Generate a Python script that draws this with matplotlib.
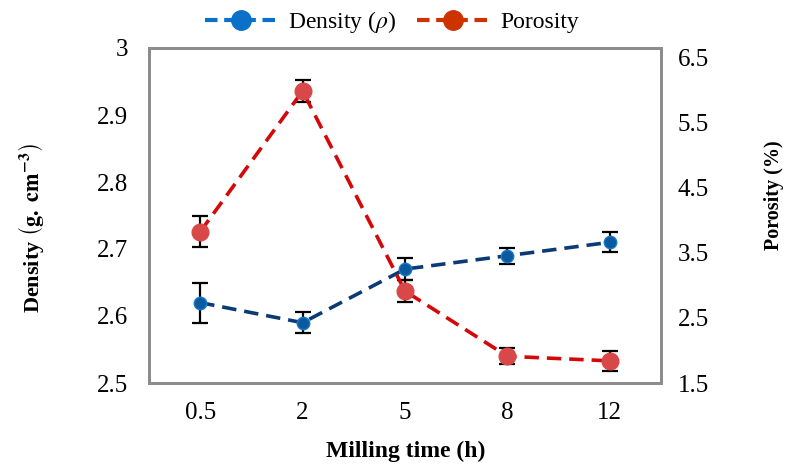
import matplotlib
matplotlib.use('Agg')
import matplotlib.pyplot as plt
from matplotlib.lines import Line2D

plt.rcParams['font.family'] = ['Liberation Serif', 'DejaVu Serif']
plt.rcParams['mathtext.fontset'] = 'stix'

# data
times = ['0.5', '2', '5', '8', '12']
density = [2.62, 2.59, 2.67, 2.69, 2.71]
density_err = [0.030, 0.016, 0.016, 0.012, 0.015]
porosity = [3.82, 5.98, 2.91, 1.91, 1.84]
porosity_err = [0.24, 0.17, 0.17, 0.12, 0.15]

density_ticks = [2.5, 2.6, 2.7, 2.8, 2.9, 3.0]
density_ticklabels = ['2.5', '2.6', '2.7', '2.8', '2.9', '3']
porosity_ticks = [1.5, 2.5, 3.5, 4.5, 5.5, 6.5]

fig = plt.figure(figsize=(7.87, 4.66), dpi=100)
ax = fig.add_axes([149/787, 1-383/466, 512/787, 335/466])
ax2 = ax.twinx()

xs = list(range(len(times)))

ax.errorbar(xs, density, yerr=density_err, fmt='none', ecolor='black',
            elinewidth=1.6, capsize=6, capthick=1.6, zorder=2)
ax.plot(xs, density, linestyle='--', dashes=(4, 2.2), color='#0b3a75', linewidth=2.6,
        marker='o', markersize=9, markerfacecolor='#0a5aa0', markeredgecolor='#1a7ac8',
        markeredgewidth=1, zorder=3)

ax2.errorbar(xs, porosity, yerr=porosity_err, fmt='none', ecolor='black',
             elinewidth=1.6, capsize=6, capthick=1.6, zorder=2)
ax2.plot(xs, porosity, linestyle='--', dashes=(4, 2.2), color='#d40808', linewidth=2.6,
         marker='o', markersize=12, markerfacecolor='#d94848', markeredgecolor='#d94848',
         zorder=3)

ax.set_xlim(-0.5, len(times) - 0.5)
ax.set_xticks(xs)
ax.set_xticklabels(times)
ax.set_ylim(2.5, 3.0)
ax.set_yticks(density_ticks)
ax.set_yticklabels(density_ticklabels)
ax2.set_ylim(1.5, 6.64)
ax2.set_yticks(porosity_ticks)
ax2.set_yticklabels([str(t) for t in porosity_ticks])

for a in (ax, ax2):
    a.tick_params(length=0, labelsize=18)
    for s in a.spines.values():
        s.set_color('#8c8c8c')
        s.set_linewidth(2)
ax.tick_params(axis='x', pad=14)
ax.tick_params(axis='y', pad=15)
ax2.tick_params(axis='y', pad=12)

ax.set_xlabel('Milling time (h)', fontsize=17, fontweight='bold')
ax.xaxis.set_label_coords(0.502, -0.174)
ax.set_ylabel(r'Density $\left(\mathbf{g.\ cm^{-3}}\right)$', fontsize=16,
              fontweight='bold')
ax.yaxis.set_label_coords(-0.202, 0.463)
ax2.set_ylabel('Porosity (%)', fontsize=14.5, fontweight='bold')
ax2.yaxis.set_label_coords(1.201, 0.561)

handles = [
    Line2D([], [], linestyle='--', dashes=(3, 1.6), color='#0a70c8', linewidth=3,
           marker='o', markersize=14, markerfacecolor='#0a70c8', markeredgecolor='#0a70c8'),
    Line2D([], [], linestyle='--', dashes=(3, 1.6), color='#cc3300', linewidth=3,
           marker='o', markersize=14, markerfacecolor='#cc3300', markeredgecolor='#cc3300'),
]
fig.legend(handles, [r'Density ($\rho$)', 'Porosity'], loc='center',
           bbox_to_anchor=(392/787, 1-22/466), ncol=2, frameon=False,
           fontsize=17, handlelength=3.0, columnspacing=0.9, handletextpad=0.5)

fig.savefig('out.png', dpi=100)
